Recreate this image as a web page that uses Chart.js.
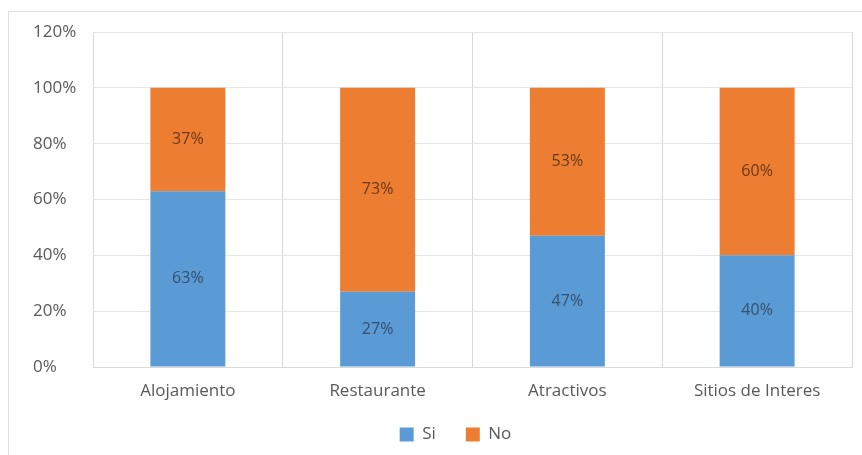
<!DOCTYPE html>
<html>
<head>
<meta charset="utf-8">
<script src="https://cdn.jsdelivr.net/npm/chart.js@4/dist/chart.umd.min.js"></script>
<style>
  html, body { margin: 0; padding: 0; background: #fff; }
  #wrap { position: relative; width: 862px; height: 455px; }
</style>
</head>
<body>
<div id="wrap"><canvas id="chart"></canvas></div>
<script>
const categories = ['Alojamiento', 'Restaurante', 'Atractivos', 'Sitios de Interes'];
const siValues = [63, 27, 47, 40];
const noValues = [37, 73, 53, 60];
const yTicks = [0, 20, 40, 60, 80, 100, 120];

const FONT = '"Open Sans", "Liberation Sans", sans-serif';

// thin frame around the whole chart like the Excel chart area
const chartFrame = {
    id: 'chartFrame',
    beforeDraw(chart) {
        const ctx = chart.ctx;
        ctx.save();
        ctx.strokeStyle = '#e0e0e0';
        ctx.lineWidth = 1;
        ctx.strokeRect(8.5, 11.5, 870, 460);
        ctx.restore();
    }
};

// percent labels in the middle of every segment
const segmentLabels = {
    id: 'segmentLabels',
    afterDatasetsDraw(chart) {
        const ctx = chart.ctx;
        ctx.save();
        ctx.font = '16px ' + FONT;
        ctx.textAlign = 'center';
        ctx.textBaseline = 'middle';
        chart.data.datasets.forEach((ds, i) => {
            const meta = chart.getDatasetMeta(i);
            meta.data.forEach((bar, j) => {
                const p = bar.getCenterPoint();
                ctx.fillStyle = i === 0 ? '#34506e' : '#6a3818';
                ctx.fillText(ds.data[j] + '%', p.x, p.y);
            });
        });
        ctx.restore();
    }
};

// keep the legend short although its items are spaced wide, and nudge it
const legendBox = {
    id: 'legendBox',
    beforeInit(chart) {
        const fit = chart.legend.fit;
        chart.legend.fit = function () {
            fit.bind(chart.legend)();
            this.height = 49;
        };
    },
    afterLayout(chart) {
        const lg = chart.legend;
        lg.left += 13;
        lg.right += 13;
        lg.top -= 5;
        lg.bottom -= 5;
    }
};

const ctx = document.getElementById('chart').getContext('2d');
new Chart(ctx, {
    type: 'bar',
    data: {
        labels: categories,
        datasets: [
            {
                label: 'Si',
                data: siValues,
                backgroundColor: '#5b9bd5',
                categoryPercentage: 1,
                barPercentage: 0.395
            },
            {
                label: 'No',
                data: noValues,
                backgroundColor: '#ed7d31',
                categoryPercentage: 1,
                barPercentage: 0.395
            }
        ]
    },
    options: {
        responsive: true,
        maintainAspectRatio: false,
        animation: false,
        layout: {
            padding: { left: 33, right: 10, top: 32, bottom: 5 }
        },
        plugins: {
            legend: {
                position: 'bottom',
                labels: {
                    boxWidth: 14,
                    boxHeight: 14,
                    padding: 30,
                    color: '#595959',
                    font: { family: FONT, size: 17 }
                }
            },
            tooltip: { enabled: false }
        },
        scales: {
            x: {
                stacked: true,
                grid: {
                    offset: true,
                    drawTicks: false,
                    color: (c) => c.index === categories.length ? 'rgba(0,0,0,0)' : '#d9d9d9'
                },
                border: { color: '#d9d9d9' },
                ticks: {
                    padding: 14,
                    color: '#595959',
                    font: { family: FONT, size: 17 }
                },
                afterFit(scale) { scale.height = 34; }
            },
            y: {
                stacked: true,
                min: 0,
                max: 120,
                afterBuildTicks(scale) {
                    scale.ticks = yTicks.map(v => ({ value: v }));
                },
                grid: { drawTicks: false, color: '#e6e6e6' },
                border: { display: false },
                ticks: {
                    crossAlign: 'far',
                    color: '#595959',
                    font: { family: FONT, size: 17 },
                    callback: (v) => v + '%'
                },
                afterFit(scale) { scale.width = 60; }
            }
        }
    },
    plugins: [chartFrame, segmentLabels, legendBox]
});
</script>
</body>
</html>
